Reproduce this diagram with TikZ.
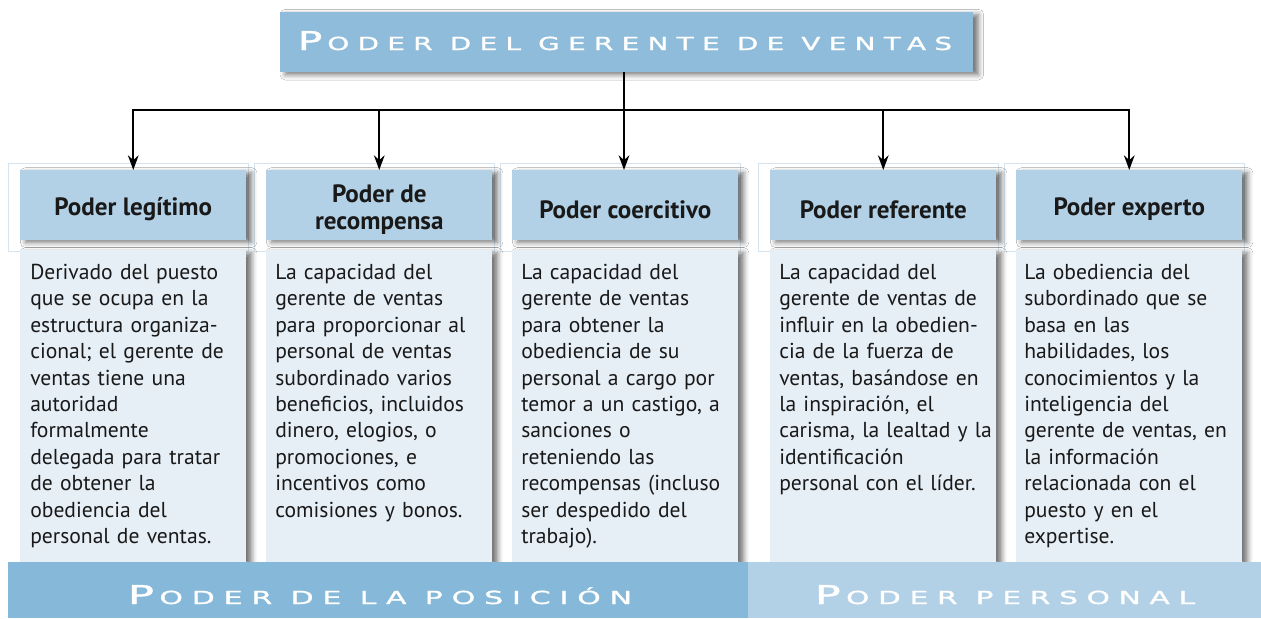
\documentclass[tikz,border=0pt]{standalone}
\usepackage{fontspec}
\usepackage{graphicx}
\setmainfont{PT Sans}
\newfontfamily\ttlfont[LetterSpace=30,FakeBold=1.2]{DejaVu Sans}
\usetikzlibrary{arrows.meta,shadows,shadows.blur}
\definecolor{topblue}{HTML}{8FBCDB}
\definecolor{headblue}{HTML}{B3D1E6}
\definecolor{bodyblue}{HTML}{E6EEF6}
\definecolor{barleft}{HTML}{85B8D9}
\definecolor{barright}{HTML}{B3D1E6}
\definecolor{framecol}{HTML}{D6E4EF}
\newcommand\ttlbig[1]{{\fontsize{19.5}{19.5}\selectfont #1\kern2.5pt}}
\newcommand\ttlsm[1]{{\fontsize{13.5}{13.5}\selectfont #1}}
\newcommand\ttltext[3]{\resizebox{#1}{\height}{\ttlfont\ttlbig{#2}\ttlsm{#3}}}
\tikzset{
  shad/.style={blur shadow={shadow xshift=4pt,shadow yshift=-2pt,shadow blur radius=4pt,shadow opacity=55}},
  topbox/.style={fill=topblue,shad,minimum width=519.75pt,minimum height=45pt,inner sep=0pt},
  framebox/.style={draw=framecol,line width=0.6pt,fill=white,minimum width=180pt,minimum height=66pt,inner sep=0pt,anchor=north west},
  headbox/.style={fill=headblue,shad,minimum width=169.5pt,minimum height=52pt,inner sep=0pt,anchor=north west},
  headtext/.style={inner sep=0pt,align=center,yshift=-3.5pt,font=\fontsize{18.8}{20.5}\selectfont\bfseries,text=black!90},
  bodybox/.style={fill=bodyblue,shad,minimum width=169.5pt,minimum height=234pt,inner sep=0pt,anchor=north west},
  bodytext/.style={anchor=north west,inner sep=0pt,text width=168pt,align=left,font=\fontsize{16.2}{19.8}\selectfont,text=black!90},
  bar/.style={inner sep=0pt,anchor=north west,minimum height=42pt},
  arr/.style={line width=1.5pt,-{Stealth[length=11pt,width=8pt]}},
  ln/.style={line width=1.5pt},
  ttl/.style={text=white,inner sep=0pt,anchor=base}
}
\begin{document}
\begin{tikzpicture}[x=0.75pt,y=-0.75pt]
\useasboundingbox[fill=white] (0,0) rectangle (1261,618);
% frames behind headers
\node[framebox] (f1) at (8,163) {};
\node[framebox] (f2) at (254,163) {};
\node[framebox] (f3) at (500,163) {};
\node[framebox] (f4) at (758,163) {};
\node[framebox] (f5) at (1004,163) {};
% top
\node[topbox] (top) at (626.5,42) {};
\node[ttl] (toptxt) at (625,50) {\ttltext{490.5pt}{P}{ODER DEL GERENTE DE VENTAS}};
% headers
\node[headbox] (h1) at (20,170) {};
\node[headbox] (h2) at (266,170) {};
\node[headbox] (h3) at (512,170) {};
\node[headbox] (h4) at (770,170) {};
\node[headbox] (h5) at (1016,170) {};
\node[headtext] (l1) at (h1.center) {Poder legítimo};
\node[headtext] (l2) at (h2.center) {Poder de\\recompensa};
\node[headtext] (l3) at (h3.center) {Poder coercitivo};
\node[headtext] (l4) at (h4.center) {Poder referente};
\node[headtext] (l5) at (h5.center) {Poder experto};
% bodies
\node[bodybox] (b1) at (20,250) {};
\node[bodybox] (b2) at (266,250) {};
\node[bodybox] (b3) at (512,250) {};
\node[bodybox] (b4) at (770,250) {};
\node[bodybox] (b5) at (1016,250) {};
\node[bodytext] (t1) at (30,264) {Derivado del puesto\\que se ocupa en la\\estructura organiza-\\cional; el gerente de\\ventas tiene una\\autoridad\\formalmente\\delegada para tratar\\de obtener la\\obediencia del\\personal de ventas.};
\node[bodytext] (t2) at (275,264) {La capacidad del\\gerente de ventas\\para proporcionar al\\personal de ventas\\subordinado varios\\beneficios, incluidos\\dinero, elogios, o\\promociones, e\\incentivos como\\comisiones y bonos.};
\node[bodytext] (t3) at (521,264) {La capacidad del\\gerente de ventas\\para obtener la\\obediencia de su\\personal a cargo por\\temor a un castigo, a\\sanciones o\\reteniendo las\\recompensas (incluso\\ser despedido del\\trabajo).};
\node[bodytext] (t4) at (779,264) {La capacidad del\\gerente de ventas de\\influir en la obedien-\\cia de la fuerza de\\ventas, basándose en\\la inspiración, el\\carisma, la lealtad y la\\identificación\\personal con el líder.};
\node[bodytext] (t5) at (1024,264) {La obediencia del\\subordinado que se\\basa en las\\habilidades, los\\conocimientos y la\\inteligencia del\\gerente de ventas, en\\la información\\relacionada con el\\puesto y en el\\expertise.};
% bottom bars
\node[bar,fill=barleft,minimum width=555pt] (barl) at (8,562) {};
\node[bar,fill=barright,minimum width=384.75pt] (barr) at (748,562) {};
\node[ttl] (posl) at (380,604) {\ttltext{378pt}{P}{ODER DE LA POSICIÓN}};
\node[ttl] (perl) at (1005,604) {\ttltext{285pt}{P}{ODER PERSONAL}};
% connectors
\coordinate (j) at (624,110);
\draw[ln] (top.south -| j) -- (j);
\draw[arr] (j) -| (h1.north);
\draw[arr] (j) -| (h2.north);
\draw[arr] (j) -- (h3.north -| j);
\draw[arr] (j) -| (h4.north);
\draw[arr] (j) -| (h5.north);
\end{tikzpicture}
\end{document}
